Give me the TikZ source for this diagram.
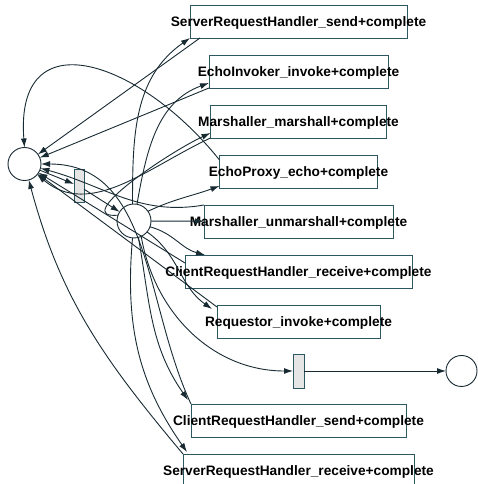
\documentclass[tikz,border=0pt]{standalone}
\usepackage{fontspec}
\setmainfont{Liberation Sans}
\usetikzlibrary{arrows.meta,positioning}
\definecolor{linia}{RGB}{24,42,50}
\definecolor{ramka}{RGB}{45,88,98}

\begin{document}
\begin{tikzpicture}[x=1pt, y=1pt, node distance=17pt]
\tikzset{
    %groty
    >={Latex[length=9pt,width=6pt]},
    %miejsca
    place/.style={circle, draw=linia, line width=0.9pt, fill=white, inner sep=0pt, outer sep=0pt},
    %przejscia
    trans/.style={rectangle, draw=ramka, line width=0.9pt, fill=white,
           minimum height=33pt, inner sep=0pt, outer sep=0pt},
    bar/.style={rectangle, draw=ramka, line width=0.9pt, fill=black!10,
           minimum width=10pt, minimum height=33pt, inner sep=0pt, outer sep=0pt},
    txt/.style={font=\bfseries\fontsize{13.7}{16}\selectfont, inner sep=0pt, yshift=-1pt},
    link/.style={->, draw=linia, line width=0.9pt}
}
\useasboundingbox (0,0) rectangle (478,484);

%Miejsca
\node[place, minimum size=33pt] (start) at (24.5,320) {};
\node[bar] (fire) at (79,298) {};
\node[place, minimum size=34pt] (busy) at (134,263) {};

%Przejscia
\node[trans, minimum width=217pt] (srhsend) at (298.5,462.5) {};
\node[trans, minimum width=179pt, below=of srhsend] (invoke) {};
\node[trans, minimum width=176pt, below=of invoke] (marsh) {};
\node[trans, minimum width=158pt, below=of marsh] (echo) {};
\node[trans, minimum width=189pt, below=of echo] (unmarsh) {};
\node[trans, minimum width=227pt, below=of unmarsh] (crhrecv) {};
\node[trans, minimum width=163pt, below=of crhrecv] (reqinv) {};
\node[bar, minimum width=11pt, minimum height=34pt, below=16pt of reqinv] (done) {};
\node[trans, minimum width=215pt, below=16pt of done] (crhsend) {};
\node[trans, minimum width=231pt, below=of crhsend] (srhrecv) {};
\node[place, minimum size=31pt, right=142pt of done] (end) {};

%Opisy
\node[txt] (srhsendtxt) at (srhsend) {ServerRequestHandler\_send+complete};
\node[txt] (invoketxt) at (invoke) {EchoInvoker\_invoke+complete};
\node[txt] (marshtxt) at (marsh) {Marshaller\_marshall+complete};
\node[txt] (echotxt) at (echo) {EchoProxy\_echo+complete};
\node[txt] (unmarshtxt) at (unmarsh) {Marshaller\_unmarshall+complete};
\node[txt] (crhrecvtxt) at (crhrecv) {ClientRequestHandler\_receive+complete};
\node[txt] (reqinvtxt) at (reqinv) {Requestor\_invoke+complete};
\node[txt] (crhsendtxt) at (crhsend) {ClientRequestHandler\_send+complete};
\node[txt] (srhrecvtxt) at (srhrecv) {ServerRequestHandler\_receive+complete};

%Luki
\draw[link] (start) -- (fire);
\draw[link] (fire) -- (busy);
\draw[link] (busy.95) to[out=90, in=215] (srhsend.south west);
\draw[link] (busy.80) to[out=80, in=200] ([yshift=5pt]invoke.south west);
\draw[link] (busy.160) to[out=185, in=205] ([yshift=5pt]marsh.south west);
\draw[link] (busy.35) to[out=25, in=200] ([yshift=2pt]echo.south west);
\draw[link] (busy) -- (unmarsh);
\draw[link] (busy.-20) to[out=-15, in=165] ([xshift=20pt]crhrecv.north west);
\draw[link] (busy.-40) to[out=-35, in=145] ([xshift=-5pt,yshift=-4pt]reqinv.north west);
\draw[link] (busy.-75) to[out=-80, in=125] ([xshift=-3pt,yshift=4pt]crhsend.north west);
\draw[link] (busy.-95) to[out=-95, in=125] ([xshift=4pt,yshift=2pt]srhrecv.north west);
\draw[link] (busy.-65) to[out=-80, in=180] (done);
\draw[link] (done) -- (end);

\draw[link] ([xshift=10pt]srhsend.south west) -- (start);
\draw[link] (invoke.south west) -- (start);
\draw[link] (marsh.south west) to[out=205, in=-40] (start);
\draw[link] ([yshift=-5pt]echo.north west) .. controls +(-80,100) and +(-10,130) .. (start.north);
\draw[link] (unmarsh.north west) to[out=190, in=-15] (start);
\draw[link] ([yshift=-8pt]crhrecv.north west) -- (start);
\draw[link] ([yshift=-2pt]reqinv.north west) -- (start);
\draw[link] (crhsend.north west) to[out=115, in=0] (start);
\draw[link] (srhrecv.north west) to[out=130, in=-75] (start);
\end{tikzpicture}
\end{document}
